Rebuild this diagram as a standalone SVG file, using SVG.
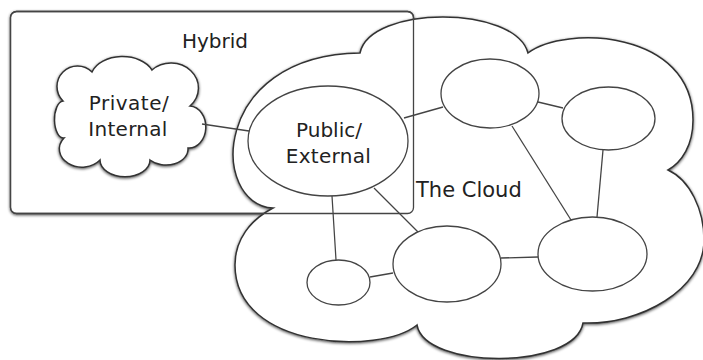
<svg xmlns="http://www.w3.org/2000/svg" width="703" height="360" viewBox="0 0 703 360">
<defs>
<filter id="sh" x="-10%" y="-10%" width="120%" height="120%">
<feGaussianBlur in="SourceAlpha" stdDeviation="1.8"/>
<feOffset dx="0" dy="1" result="b"/>
<feComponentTransfer><feFuncA type="linear" slope="0.7"/></feComponentTransfer>
<feMerge><feMergeNode/><feMergeNode in="SourceGraphic"/></feMerge>
</filter>
<style>
.shape{fill:#fff;stroke:#333;stroke-width:1.5}
.frame{fill:none;stroke:#444;stroke-width:1.3}
.node{fill:#fff;stroke:#444;stroke-width:1.3}
.edge{stroke:#444;stroke-width:1.3;fill:none}
.lbl{font-family:"DejaVu Sans","Liberation Sans",sans-serif;font-size:20px;fill:#222}
</style>
</defs>
<rect x="0" y="0" width="703" height="360" fill="#fff"/>
<g id="hybrid">
<rect x="10.5" y="11.5" width="403" height="202" rx="6" class="shape" style="stroke:#444;stroke-width:1.3" filter="url(#sh)"/>
</g>
<g id="the-cloud">
<path class="shape" filter="url(#sh)" d="M273,208 C210,205 210,55 360,53 C370,5 515,5 528,53 C565,25 693,30 693,120 C693,145 682,162 668,170 C690,180 704,210 704,240 C704,290 640,325 583,323 C575,370 425,370 417,325 C380,355 235,350 235,265 C235,240 250,220 273,208 Z"/>
<text class="lbl" x="416" y="197" style="font-size:21px">The Cloud</text>
</g>
<g id="hybrid-frame">
<rect x="10.5" y="11.5" width="403" height="202" rx="6" class="frame"/>
<text class="lbl" x="215" y="48" text-anchor="middle">Hybrid</text>
</g>
<g id="private">
<path class="shape" filter="url(#sh)" d="M63,101 A18 18 0 0 1 92,72 A32 22 0 0 1 152,70 A22 20 0 0 1 190,106 A16 20 0 0 1 188,148 A22 16 0 0 1 150,160 A24 16 0 0 1 100,160 A20 16 0 0 1 64,138 A9 18.5 0 0 1 63,101 Z"/>
<text class="lbl" x="129" y="110" text-anchor="middle" style="letter-spacing:0.5px">Private/</text>
<text class="lbl" x="128" y="135.5" text-anchor="middle" style="letter-spacing:0.3px">Internal</text>
</g>
<g id="connectors">
<line class="edge" x1="202" y1="124" x2="249" y2="131"/>
<line class="edge" x1="404" y1="118" x2="443" y2="107"/>
<line class="edge" x1="538" y1="102" x2="563" y2="108"/>
<line class="edge" x1="512" y1="126" x2="571" y2="220"/>
<line class="edge" x1="603" y1="150" x2="597" y2="217"/>
<line class="edge" x1="538" y1="257" x2="501" y2="258"/>
<line class="edge" x1="393" y1="273" x2="370" y2="277"/>
<line class="edge" x1="332" y1="196" x2="336" y2="260"/>
<line class="edge" x1="374" y1="188" x2="418" y2="232"/>
</g>
<g id="public">
<ellipse class="node" cx="328" cy="141" rx="80" ry="55"/>
<text class="lbl" x="329" y="137" text-anchor="middle">Public/</text>
<text class="lbl" x="328.5" y="163" text-anchor="middle" style="letter-spacing:0.3px">External</text>
</g>
<g id="node-a"><ellipse class="node" cx="490" cy="93.5" rx="49" ry="34.5"/></g>
<g id="node-b"><ellipse class="node" cx="608.5" cy="118.5" rx="46.5" ry="31.5"/></g>
<g id="node-c"><ellipse class="node" cx="592.5" cy="254" rx="54.5" ry="37"/></g>
<g id="node-d"><ellipse class="node" cx="447" cy="264" rx="54" ry="38"/></g>
<g id="node-e"><ellipse class="node" cx="338.5" cy="282.5" rx="31.5" ry="22.5"/></g>
</svg>
